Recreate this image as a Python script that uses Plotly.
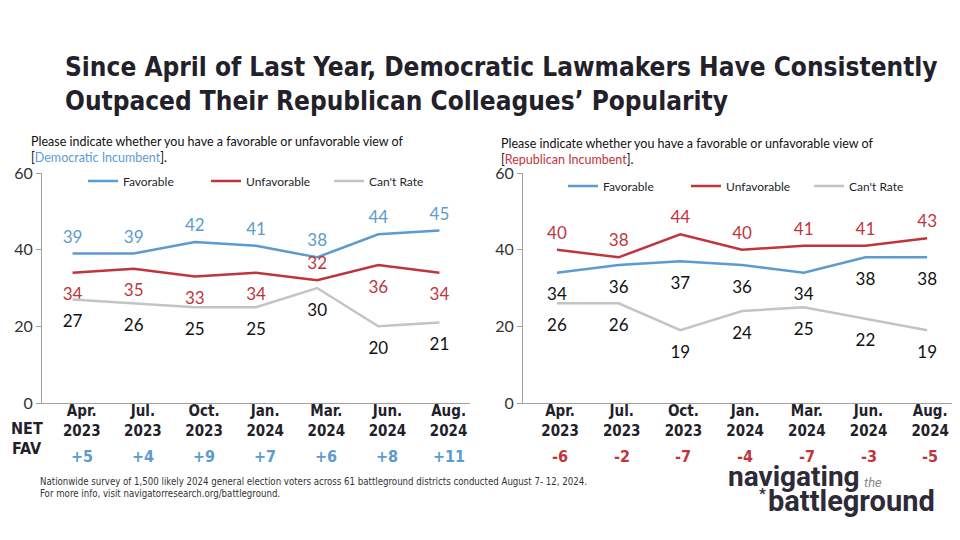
import plotly.graph_objects as go

months = ["Apr.<br>2023", "Jul.<br>2023", "Oct.<br>2023", "Jan.<br>2024",
          "Mar.<br>2024", "Jun.<br>2024", "Aug.<br>2024"]

dem_fav = [39, 39, 42, 41, 38, 44, 45]
dem_unfav = [34, 35, 33, 34, 32, 36, 34]
dem_cant = [27, 26, 25, 25, 30, 20, 21]
dem_net = ["+5", "+4", "+9", "+7", "+6", "+8", "+11"]

rep_fav = [34, 36, 37, 36, 34, 38, 38]
rep_unfav = [40, 38, 44, 40, 41, 41, 43]
rep_cant = [26, 26, 19, 24, 25, 22, 19]
rep_net = ["-6", "-2", "-7", "-4", "-7", "-3", "-5"]

BLUE = "#5b9bd1"
RED = "#c0353c"
GRAY = "#c4c4c4"
DARK = "#231f2b"
COND = "DejaVu Sans Condensed, Liberation Sans Narrow, sans-serif"
BODY = "Lato, Noto Sans, sans-serif"
LOGO = "Roboto, sans-serif"

# the page has an 8px body margin, so the figure is 8px smaller and
# positions below are given in page pixels then converted
W, H, OFF = 952, 532, 8


def px(x):
    return (x - OFF) / W


def py(y):
    return 1 - (y - OFF) / H


xs = list(range(len(months)))
# month labels sit a bit right of the points in the original slide
tick_left = [i + 0.15 for i in xs]
tick_right = [i + 0.05 for i in xs]

fig = go.Figure()


def add_series(vals, name, color, txtcolor, pos, xa, ya, legend):
    if isinstance(pos, str):
        pos = [pos] * len(vals)
    # invisible markers only push the labels away from the line
    sizes = [9 if p.startswith("top") else 22 for p in pos]
    fig.add_trace(go.Scatter(
        x=xs, y=vals, name=name, mode="lines+markers+text",
        line=dict(color=color, width=2.5),
        marker=dict(size=sizes, color="rgba(0,0,0,0)", line=dict(width=0)),
        text=[str(v) for v in vals], textposition=pos,
        textfont=dict(family=BODY, size=17, color=txtcolor),
        xaxis=xa, yaxis=ya, legend=legend, hoverinfo="skip"))


# left chart
add_series(dem_fav, "Favorable", BLUE, BLUE, "top center", "x", "y", "legend")
add_series(dem_unfav, "Unfavorable", RED, RED,
           ["bottom center"] * 4 + ["top center"] + ["bottom center"] * 2, "x", "y", "legend")
add_series(dem_cant, "Can't Rate", GRAY, "#111111", "bottom center", "x", "y", "legend")

# right chart
add_series(rep_fav, "Favorable", BLUE, "#111111", "bottom center", "x2", "y2", "legend2")
add_series(rep_unfav, "Unfavorable", RED, RED, "top center", "x2", "y2", "legend2")
add_series(rep_cant, "Can't Rate", GRAY, "#111111", "bottom center", "x2", "y2", "legend2")

xax = dict(range=[-0.5, 6.5], ticktext=["<b>%s</b>" % m for m in months],
           showline=True, linecolor="#a0a0a0", linewidth=1.2, ticks="",
           showgrid=False, zeroline=False, ticklabelstandoff=-6,
           tickfont=dict(family=COND, size=15, color=DARK))
yax = dict(range=[0, 60], tickvals=[0, 20, 40, 60], showline=True, linecolor="#a0a0a0",
           linewidth=1.2, ticks="outside", ticklen=5, tickcolor="#a0a0a0",
           showgrid=False, zeroline=False, domain=[py(403), py(173)],
           tickfont=dict(family=BODY, size=16, color="#333333"))

leg = dict(orientation="h", xanchor="left", yanchor="middle", entrywidth=78,
           entrywidthmode="pixels", bgcolor="rgba(0,0,0,0)", itemwidth=30,
           font=dict(family=BODY, size=12, color=DARK))

fig.update_layout(
    width=W, height=H,
    margin=dict(l=0, r=0, t=0, b=0, autoexpand=False),
    paper_bgcolor="white", plot_bgcolor="white",
    showlegend=True,
    xaxis=dict(xax, tickvals=tick_left, domain=[px(42), px(470)], anchor="y"),
    yaxis=dict(yax, anchor="x"),
    xaxis2=dict(xax, tickvals=tick_right, domain=[px(523), px(958)], range=[-0.55, 6.5],
                anchor="y2"),
    yaxis2=dict(yax, anchor="x2"),
    legend=dict(leg, x=px(83), y=py(181)),
    legend2=dict(leg, x=px(563), y=py(186)),
)

ann = []
ann.append(dict(x=px(63), y=py(84), xref="paper", yref="paper", xanchor="left",
                yanchor="middle", showarrow=False, align="left",
                text="<b>Since April of Last Year, Democratic Lawmakers Have Consistently<br>"
                     "Outpaced Their Republican Colleagues\u2019 Popularity</b>",
                font=dict(family=COND, size=26, color=DARK)))

q = "Please indicate whether you have a favorable or unfavorable view of"
ann.append(dict(x=px(29), y=py(149), xref="paper", yref="paper", xanchor="left",
                yanchor="middle", showarrow=False, align="left",
                text=q + "<br>[<span style='color:%s'>Democratic Incumbent</span>]." % BLUE,
                font=dict(family=BODY, size=12.5, color="#111111")))
ann.append(dict(x=px(499), y=py(151), xref="paper", yref="paper", xanchor="left",
                yanchor="middle", showarrow=False, align="left",
                text=q + "<br>[<span style='color:%s'>Republican Incumbent</span>]." % RED,
                font=dict(family=BODY, size=12.5, color="#111111")))

ann.append(dict(x=px(27), y=py(428), xref="paper", yref="paper", xanchor="center",
                yanchor="middle", showarrow=False, text="<b>NET</b>",
                font=dict(family=COND, size=16, color=DARK)))
ann.append(dict(x=px(27), y=py(448), xref="paper", yref="paper", xanchor="center",
                yanchor="middle", showarrow=False, text="<b>FAV</b>",
                font=dict(family=COND, size=16, color=DARK)))

for tx, v in zip(tick_left, dem_net):
    ann.append(dict(x=tx, y=py(456), xref="x", yref="paper", yanchor="middle",
                    showarrow=False, text="<b>%s</b>" % v,
                    font=dict(family=COND, size=16, color=BLUE)))
for tx, v in zip(tick_right, rep_net):
    ann.append(dict(x=tx, y=py(456), xref="x2", yref="paper", yanchor="middle",
                    showarrow=False, text="<b>%s</b>" % v,
                    font=dict(family=COND, size=16, color=RED)))

ann.append(dict(x=px(38), y=py(487), xref="paper", yref="paper", xanchor="left",
                yanchor="middle", showarrow=False, align="left",
                text="Nationwide survey of 1,500 likely 2024 general election voters across 61 "
                     "battleground districts conducted August 7- 12, 2024.<br>"
                     "For more info, visit navigatorresearch.org/battleground.",
                font=dict(family=COND, size=9.6, color="#333333")))

# logo text
ann.append(dict(x=px(726), y=py(476), xref="paper", yref="paper", xanchor="left",
                yanchor="middle", showarrow=False, text="<b>navigating</b>",
                font=dict(family=LOGO, size=28, color="#2e2a38")))
ann.append(dict(x=px(862), y=py(482), xref="paper", yref="paper", xanchor="left",
                yanchor="middle", showarrow=False, text="<i>the</i>",
                font=dict(family=LOGO, size=13, color="#8a8a8a")))
ann.append(dict(x=px(757), y=py(494), xref="paper", yref="paper", xanchor="left",
                yanchor="middle", showarrow=False, text="<b>*</b>",
                font=dict(family=LOGO, size=15, color="#2e2a38")))
ann.append(dict(x=px(766), y=py(501), xref="paper", yref="paper", xanchor="left",
                yanchor="middle", showarrow=False, text="<b>battleground</b>",
                font=dict(family=LOGO, size=29, color="#2e2a38")))

fig.update_layout(annotations=ann)

fig.write_html("out.html")
